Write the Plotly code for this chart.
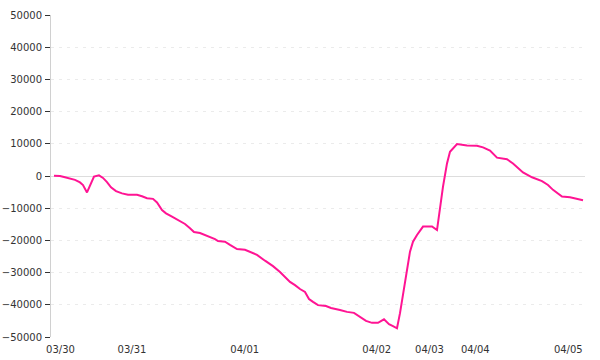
import plotly.graph_objects as go

# sample position (arbitrary time index) and value
t = [0, 6, 10, 16, 21, 26, 29, 33, 36, 40, 45, 49, 53, 57, 62, 68, 74, 83, 88, 93,
     99, 103, 108, 112, 118, 125, 131, 136, 140, 146, 151, 156, 161, 164, 171, 176,
     183, 191, 196, 203, 211, 219, 226, 234, 236, 241, 246, 251, 255, 259, 264, 272,
     277, 286, 293, 300, 306, 312, 318, 324, 330, 335, 339, 343, 346, 349, 353, 356,
     359, 363, 369, 378, 383, 385, 389, 393, 396, 403, 413, 423, 429, 436, 443, 453,
     459, 469, 478, 488, 494, 499, 508, 516, 523, 529]
values = [100, 0, -300, -900, -1200, -2000, -2800, -5100, -2800, -200, 200, -600,
          -1900, -3500, -4700, -5400, -5800, -5800, -6300, -6900, -7100, -8200,
          -10600, -11600, -12600, -13900, -14900, -16200, -17400, -17700, -18300,
          -18900, -19600, -20200, -20400, -21400, -22700, -22900, -23500, -24500,
          -26300, -28000, -29800, -32100, -32900, -33900, -35100, -36000, -38200,
          -39100, -40100, -40400, -41000, -41600, -42200, -42500, -43800, -45000,
          -45600, -45600, -44500, -46000, -46600, -47300, -42600, -36400, -28200,
          -23500, -20400, -18300, -15700, -15700, -16800, -12100, -3300, 3900, 7500,
          9900, 9500, 9400, 8900, 7900, 5700, 5200, 3900, 1100, -400, -1600, -2800,
          -4300, -6400, -6600, -7200, -7500]

tick_pos = [6.5, 78, 190.7, 322.7, 375.5, 421.3, 514.3]
tick_labels = ["03/30", "03/31", "04/01", "04/02", "04/03", "04/04", "04/05"]

fig = go.Figure()
fig.add_trace(go.Scatter(x=t, y=values, mode="lines",
                         line=dict(color="#ff1493", width=2),
                         hoverinfo="skip", showlegend=False))

fig.update_layout(
    width=600, height=360,
    margin=dict(l=51, r=15, t=15, b=23),
    paper_bgcolor="white", plot_bgcolor="white",
    font=dict(family="DejaVu Sans", size=10, color="#333"),
    showlegend=False,
)
fig.update_xaxes(range=[-3, 531], tickvals=tick_pos, ticktext=tick_labels,
                 showgrid=False, zeroline=False, showline=False, ticks="",
                 ticklabelstandoff=5, automargin=False,
                 fixedrange=True)
fig.update_yaxes(range=[-50000, 50000], dtick=10000, tick0=0, tickformat="d",
                 ticks="outside", ticklen=5, tickcolor="#333", tickwidth=1,
                 ticklabelstandoff=1, automargin=False,
                 showline=True, linecolor="#d0d0d0", linewidth=1,
                 showgrid=True, gridcolor="#ebebeb", griddash="3px,5px", gridwidth=1,
                 zeroline=True, zerolinecolor="#dddddd", zerolinewidth=1,
                 fixedrange=True)

fig.write_html("out.html")
